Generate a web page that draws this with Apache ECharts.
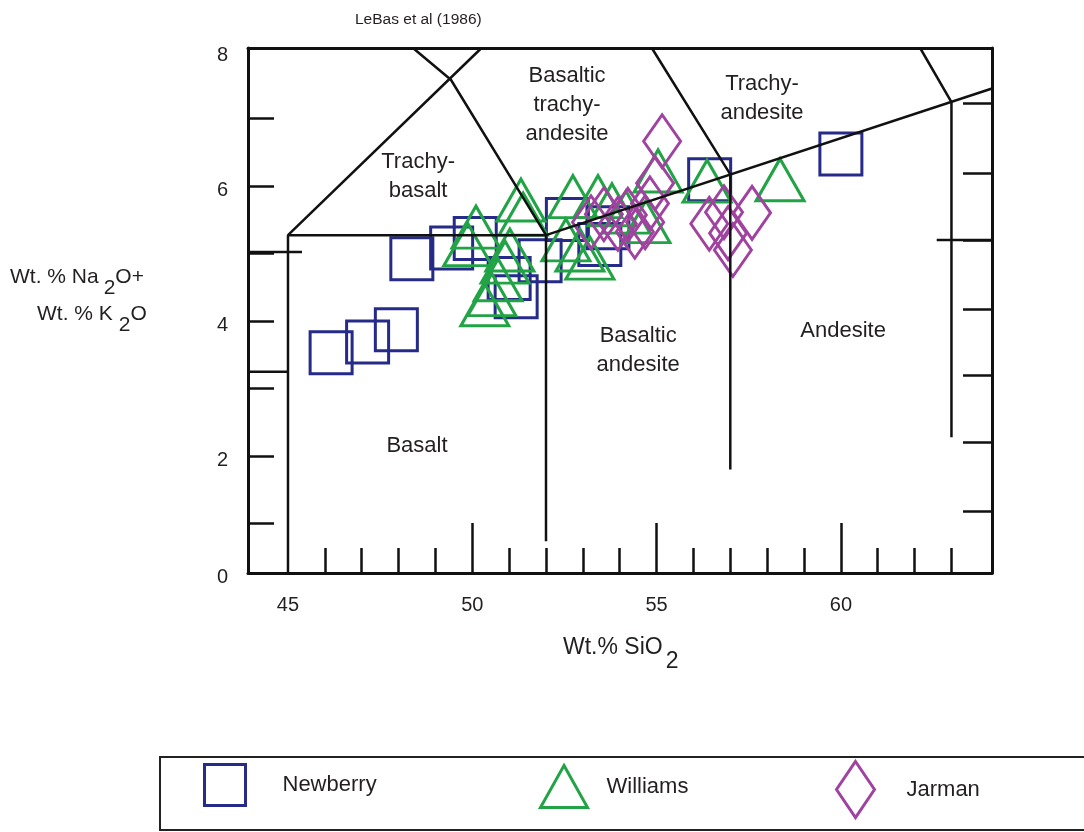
<!DOCTYPE html>
<html><head><meta charset="utf-8">
<script src="https://cdn.jsdelivr.net/npm/echarts@6/dist/echarts.min.js"></script>
<style>html,body{margin:0;padding:0;background:#fff}#c{width:1084px;height:832px}</style>
</head><body><div id="c"></div>
<script>
// ---- axis ticks / labels ----
const xMinorTickValues = [46,47,48,49,50,51,52,53,54,55,56,57,58,59,60,61,62,63];
const xMajorTickValues = [50,55,60];
const xLabelValues = [45,50,55,60];
const yTickValues = [1,2,3,4,5,6,7];
const yLabelValues = [0.27,2,4,6,8];
const yLabelTexts = ['0','2','4','6','8'];
const yRightTickValues = [1.19,2.21,3.19,4.18,5.2,6.19,7.22];

// ---- samples: [SiO2, Na2O+K2O] ----
const newberry = [[46.17,3.53],[47.16,3.69],[47.94,3.87],[48.36,4.92],[49.44,5.08],[50.08,5.22],
  [51.00,4.63],[51.19,4.36],[51.84,4.89],[52.58,5.50],[53.68,5.38],[53.46,5.13],[56.44,6.09],[60.00,6.47]];
const williams = [[50.10,5.39],[49.88,5.13],[51.32,5.79],[51.38,5.58],[50.89,4.87],[50.70,4.61],[50.53,4.39],
  [50.34,4.24],[52.73,5.84],[53.41,5.84],[53.79,5.72],[54.17,5.61],[54.71,5.47],[55.04,6.22],[56.37,6.07],
  [58.35,6.09],[52.92,5.05],[53.19,4.93],[52.54,5.20],[51.02,5.05]];
const jarman = [[55.15,6.66],[54.96,6.04],[54.82,5.74],[54.69,5.46],[54.41,5.32],[53.22,5.46],[53.57,5.58],
  [53.95,5.44],[54.22,5.57],[56.43,5.44],[56.94,5.30],[57.07,5.05],[57.59,5.60],[56.83,5.61]];

// ---- field boundaries (LeBas et al 1986, as drawn) ----
const boundaries = [
  [[45,0.27],[45,5.27],[52,5.27]],
  [[45,5.27],[50.25,8.04]],
  [[48.39,8.04],[49.42,7.57],[52,5.27],[52,0.74]],
  [[52,5.27],[64.1,7.44]],
  [[54.87,8.04],[57,6.17],[57,1.80]],
  [[62.15,8.04],[63,7.24],[63,2.28]],
  [[43.915,5.02],[45.38,5.02]],
  [[43.915,3.25],[45,3.25]],
  [[62.6,5.2],[64.1,5.2]]
];
const fieldNames = ['Trachy-\nbasalt','Basaltic\ntrachy-\nandesite','Trachy-\nandesite','Basaltic\nandesite','Andesite','Basalt'];
const fieldLabelAt = [[48.53,6.14],[52.57,7.20],[57.86,7.30],[54.50,3.56],[60.06,3.85],[48.50,2.15]];

const seriesNames = ['Newberry','Williams','Jarman'];
const colors = ['#262a88','#22a446','#a0429f'];

const FONT = "'Liberation Sans', Arial, sans-serif";
const TXT = '#231f20';
const X_MIN = 43.915, X_MAX = 64.1, Y_MIN = 0.27, Y_MAX = 8.04;

// text with subscripts: pieces = [[text, dy, gap], ...] laid out left to right
const measureCtx = document.createElement('canvas').getContext('2d');
function subText(x, y, size, pieces) {
  measureCtx.font = size + 'px ' + FONT;
  let cx = 0;
  const children = pieces.map(([t, dy, gap]) => {
    cx += gap || 0;
    const el = {type:'text', x:cx, y:dy, style:{text:t, font:size + 'px ' + FONT, fill:TXT, textVerticalAlign:'top'}};
    cx += measureCtx.measureText(t).width;
    return el;
  });
  return {type:'group', x:x, y:y, silent:true, children:children};
}

const chart = echarts.init(document.getElementById('c'), null, {renderer:'canvas'});

const lineSeries = boundaries.map(pts => ({
  type:'line', data:pts, symbol:'none', silent:true, z:3, animation:false,
  lineStyle:{color:'#111', width:2.5}
}));

const option = {
  animation:false,
  textStyle:{fontFamily:FONT},
  grid:{left:248, right:92, top:48, bottom:259, containLabel:false},
  xAxis:[
    {type:'value', position:'bottom', min:X_MIN, max:X_MAX,
     axisLine:{show:true, onZero:false, lineStyle:{color:'#111', width:3}},
     axisTick:{show:true, inside:true, length:25, customValues:xMinorTickValues, lineStyle:{color:'#111', width:2.5}},
     axisLabel:{show:true, customValues:xLabelValues, margin:22, fontSize:20, color:TXT, fontFamily:FONT},
     splitLine:{show:false}},
    {type:'value', position:'bottom', min:X_MIN, max:X_MAX,
     axisLine:{show:false, onZero:false},
     axisTick:{show:true, inside:true, length:50, customValues:xMajorTickValues, lineStyle:{color:'#111', width:2.5}},
     axisLabel:{show:false}, splitLine:{show:false}},
    {type:'value', position:'top', min:X_MIN, max:X_MAX,
     axisLine:{show:true, onZero:false, lineStyle:{color:'#111', width:3}},
     axisTick:{show:false}, axisLabel:{show:false}, splitLine:{show:false}}
  ],
  yAxis:[
    {type:'value', position:'left', min:Y_MIN, max:Y_MAX,
     axisLine:{show:true, onZero:false, lineStyle:{color:'#111', width:3}},
     axisTick:{show:true, inside:true, length:26, customValues:yTickValues, lineStyle:{color:'#111', width:2.5}},
     axisLabel:{show:true, customValues:yLabelValues, margin:20, fontSize:20, color:TXT, fontFamily:FONT,
       verticalAlign:'top', lineHeight:9,
       formatter:v => { const i = yLabelValues.findIndex(u => Math.abs(u - v) < 1e-6); return i >= 0 ? yLabelTexts[i] : ''; }},
     splitLine:{show:false}},
    {type:'value', position:'right', min:Y_MIN, max:Y_MAX,
     axisLine:{show:true, onZero:false, lineStyle:{color:'#111', width:3}},
     axisTick:{show:true, inside:true, length:29, customValues:yRightTickValues, lineStyle:{color:'#111', width:2.5}},
     axisLabel:{show:false}, splitLine:{show:false}}
  ],
  legend:[
    {data:[seriesNames[0]], left:203, top:763, padding:0, itemWidth:41, itemHeight:41, symbolKeepAspect:false,
     itemStyle:{color:'rgba(0,0,0,0)', borderColor:colors[0], borderWidth:3, opacity:1},
     textStyle:{fontSize:22, color:TXT, fontFamily:FONT, padding:[0,0,0,32]}},
    {data:[seriesNames[1]], left:539, top:764, padding:0, itemWidth:47, itemHeight:42, symbolKeepAspect:false,
     itemStyle:{color:'rgba(0,0,0,0)', borderColor:colors[1], borderWidth:3, opacity:1},
     textStyle:{fontSize:22, color:TXT, fontFamily:FONT, padding:[0,0,0,14]}},
    {data:[seriesNames[2]], left:835, top:760, padding:0, itemWidth:38, itemHeight:56, symbolKeepAspect:false,
     itemStyle:{color:'rgba(0,0,0,0)', borderColor:colors[2], borderWidth:3, opacity:1},
     textStyle:{fontSize:22, color:TXT, fontFamily:FONT, padding:[0,0,0,27]}}
  ],
  graphic:[
    {type:'rect', shape:{x:160, y:757, width:940, height:73}, style:{fill:'none', stroke:'#222', lineWidth:2}, silent:true},
    {type:'text', left:355, top:12, style:{text:'LeBas et al (1986)', font:"15.5px "+FONT, fill:TXT}},
    subText(563, 636, 23, [['Wt.% SiO',0],['2',14,3]]),
    subText(10, 267, 21, [['Wt. % Na',0],['2',11,5],['O+',0]]),
    subText(37, 304, 21, [['Wt. % K',0],['2',11,6],['O',0]])
  ],
  series:[
    ...lineSeries,
    {type:'scatter', data:fieldLabelAt.map((p,i)=>({value:p, name:fieldNames[i]})), symbolSize:2, silent:true,
     itemStyle:{color:'rgba(0,0,0,0)', opacity:1}, z:4,
     label:{show:true, position:'inside', formatter:p=>p.name, fontSize:22, lineHeight:29, color:TXT, opacity:1,
       textBorderWidth:0, fontFamily:FONT, align:'center', verticalAlign:'middle'}},
    {name:seriesNames[0], type:'scatter', data:newberry, symbol:'rect', symbolSize:[42,42], z:2,
     itemStyle:{color:'rgba(0,0,0,0)', borderColor:colors[0], borderWidth:3, opacity:1}, emphasis:{disabled:true}},
    {name:seriesNames[1], type:'scatter', data:williams, symbol:'triangle', symbolSize:[48,42], z:2,
     itemStyle:{color:'rgba(0,0,0,0)', borderColor:colors[1], borderWidth:3, opacity:1}, emphasis:{disabled:true}},
    {name:seriesNames[2], type:'scatter', data:jarman, symbol:'diamond', symbolSize:[37,53], z:2,
     itemStyle:{color:'rgba(0,0,0,0)', borderColor:colors[2], borderWidth:3, opacity:1}, emphasis:{disabled:true}}
  ]
};
chart.setOption(option);
</script></body></html>
